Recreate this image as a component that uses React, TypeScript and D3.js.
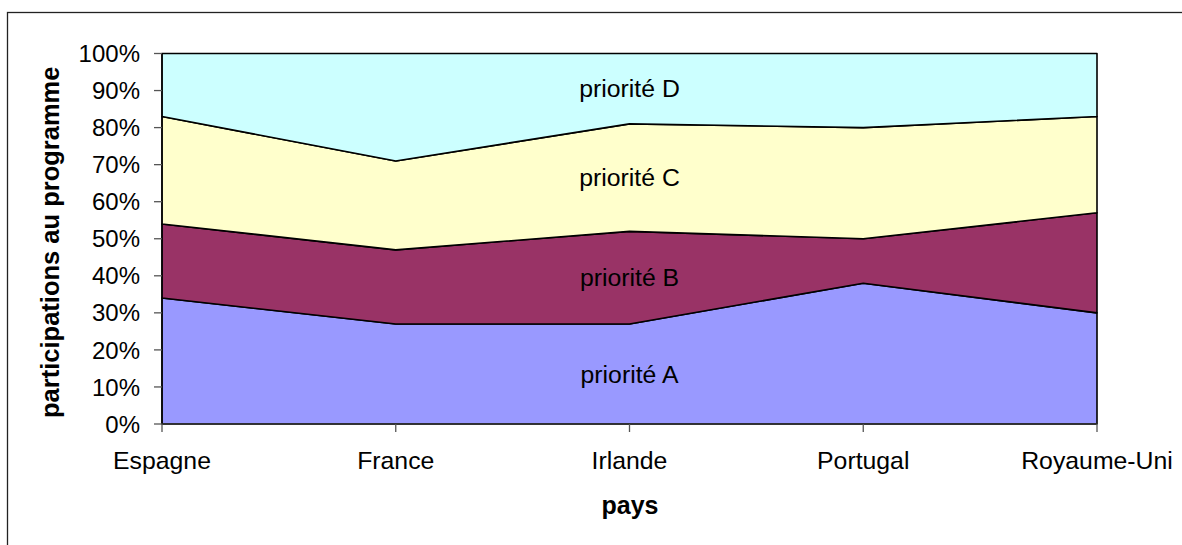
import * as d3 from "d3";

const countries = ["Espagne", "France", "Irlande", "Portugal", "Royaume-Uni"];
const seriesNames = ["priorité A", "priorité B", "priorité C", "priorité D"];
const prioriteA = [34, 27, 27, 38, 30];
const prioriteB = [20, 20, 25, 12, 27];
const prioriteC = [29, 24, 29, 30, 26];
const prioriteD = [17, 29, 19, 20, 17];
const colors = ["#9999ff", "#993366", "#ffffcc", "#ccffff"];
const yTicks = [0, 0.1, 0.2, 0.3, 0.4, 0.5, 0.6, 0.7, 0.8, 0.9, 1];

const W = 1182;
const H = 545;
const left = 162;
const right = 1097;
const top = 53.5;
const bottom = 424;
const font = "'Liberation Sans', Arial, sans-serif";

export default function App() {
  const rows = countries.map((c, i) => {
    const total = prioriteA[i] + prioriteB[i] + prioriteC[i] + prioriteD[i];
    return {
      pays: c,
      a: prioriteA[i] / total,
      b: prioriteB[i] / total,
      c: prioriteC[i] / total,
      d: prioriteD[i] / total,
    };
  });
  const keys = ["a", "b", "c", "d"];
  const stacked = d3.stack<any>().keys(keys)(rows);

  const x = d3.scalePoint<string>().domain(countries).range([left, right]);
  const y = d3.scaleLinear().domain([0, 1]).range([bottom, top]);

  const area = d3
    .area<any>()
    .x((d) => x(d.data.pays)!)
    .y0((d) => y(d[0]))
    .y1((d) => y(d[1]));

  // labels sit on the middle category, halfway up each band
  const mid = Math.floor(countries.length / 2);

  return (
    <svg
      width={W}
      height={H}
      style={{ position: "absolute", left: 0, top: 0, background: "#fff" }}
      fontFamily={font}
    >
      <rect x={7.5} y={12.5} width={W + 20} height={H + 20} fill="#fff" stroke="#222" strokeWidth={1.3} />

      {stacked.map((s, i) => (
        <path key={i} d={area(s)!} fill={colors[i]} stroke="#000" strokeWidth={1.6} strokeLinejoin="round" />
      ))}

      {/* y axis */}
      <line x1={left} x2={left} y1={top} y2={bottom} stroke="#000" strokeWidth={1.3} />
      {yTicks.map((t) => (
        <g key={t}>
          <line x1={left - 8} x2={left} y1={y(t)} y2={y(t)} stroke="#555" strokeWidth={1.3} />
          <text x={140} y={y(t) + 8.6} textAnchor="end" fontSize={24} fill="#000">
            {d3.format(".0%")(t)}
          </text>
        </g>
      ))}

      {/* x axis */}
      <line x1={left} x2={right} y1={bottom} y2={bottom} stroke="#333" strokeWidth={1.3} />
      {countries.map((c) => (
        <g key={c}>
          <line x1={x(c)!} x2={x(c)!} y1={bottom} y2={bottom + 8} stroke="#555" strokeWidth={1.3} />
          <text x={x(c)!} y={469} textAnchor="middle" fontSize={24.8} fill="#000">
            {c}
          </text>
        </g>
      ))}

      {stacked.map((s, i) => {
        const p = s[mid];
        return (
          <text key={"l" + i} x={x(countries[mid])!} y={y((p[0] + p[1]) / 2) + 8.8} textAnchor="middle" fontSize={24.8} fill="#000">
            {seriesNames[i]}
          </text>
        );
      })}

      <text x={630} y={514} textAnchor="middle" fontSize={25} fontWeight="bold" fill="#000">
        pays
      </text>
      <text
        transform={`translate(59,${(top + bottom) / 2 + 3.5}) rotate(-90)`}
        textAnchor="middle"
        fontSize={25.5}
        fontWeight="bold"
        fill="#000"
      >
        participations au programme
      </text>
    </svg>
  );
}
